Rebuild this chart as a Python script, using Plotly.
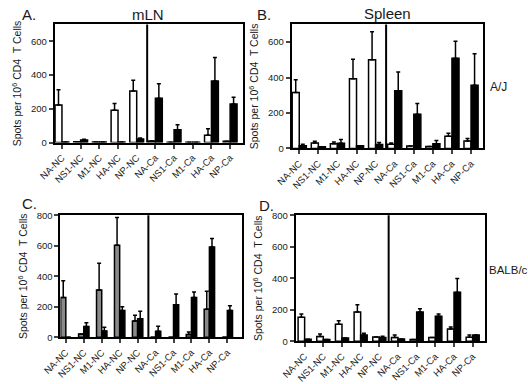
import plotly.graph_objects as go

categories = ["NA-NC", "NS1-NC", "M1-NC", "HA-NC", "NP-NC",
              "NA-Ca", "NS1-Ca", "M1-Ca", "HA-Ca", "NP-Ca"]

A_open = [223, 5, 3, 191, 306, 10, 2, 2, 44, 8]
A_open_sem = [90, 0, 0, 40, 63, 0, 0, 0, 38, 0]
A_filled = [3, 15, 3, 3, 22, 262, 76, 2, 365, 229]
A_filled_sem = [0, 5, 0, 0, 5, 86, 29, 0, 139, 40]

B_open = [316, 31, 27, 393, 500, 24, 13, 11, 69, 42]
B_open_sem = [71, 9, 9, 111, 158, 7, 0, 0, 16, 14]
B_filled = [15, 9, 29, 15, 22, 325, 193, 27, 509, 356]
B_filled_sem = [9, 0, 22, 0, 11, 106, 60, 17, 96, 178]

C_open = [261, 21, 310, 603, 107, 0, 0, 19, 184, 0]
C_open_sem = [109, 0, 176, 182, 38, 0, 0, 15, 118, 0]
C_filled = [0, 71, 41, 175, 122, 39, 214, 261, 592, 175]
C_filled_sem = [0, 25, 25, 26, 49, 34, 70, 36, 56, 32]

D_open = [152, 29, 107, 185, 27, 23, 10, 23, 78, 25]
D_open_sem = [21, 16, 23, 47, 0, 16, 0, 0, 12, 14]
D_filled = [12, 10, 21, 39, 23, 14, 185, 158, 311, 39]
D_filled_sem = [0, 0, 0, 12, 8, 0, 21, 15, 88, 0]

y_ticks_AB = [0, 200, 400, 600]
y_ticks_CD = [0, 200, 400, 600, 800]

y_title = "Spots per 10<sup>6</sup> CD4  T Cells"

W, H = 528, 384
FONT = "Arial, Liberation Sans, Helvetica, sans-serif"
TXT = "#1a1a1a"


def px(x):
    return x / W


def py(y):
    return 1 - y / H


panels = [
    ("", A_open, A_open_sem, A_filled, A_filled_sem, "white", (37, 19, 232, 141), 700, y_ticks_AB, [-0.39, 9.67], 0.37, 4.56),
    ("2", B_open, B_open_sem, B_filled, B_filled_sem, "white", (283, 19, 481, 147), 700, y_ticks_AB, [-0.39, 9.61], 0.37, 4.55),
    ("3", C_open, C_open_sem, C_filled, C_filled_sem, "#8a8a8a", (43, 216, 231, 342), 800, y_ticks_CD, [-0.30, 9.80], 0.29, 4.6),
    ("4", D_open, D_open_sem, D_filled, D_filled_sem, "white", (287, 216, 483, 346), 800, y_ticks_CD, [-0.48, 9.64], 0.35, 4.5),
]

fig = go.Figure()
layout = {}
shapes = []
idx = list(range(len(categories)))

for (n, op, ops, fi, fis, ocol, box, ymax, yt, xr, bw, div) in panels:
    xa = "x" + n
    ya = "y" + n
    fig.add_trace(go.Bar(
        x=idx, y=op, xaxis=xa, yaxis=ya, width=bw, offset=-bw,
        marker=dict(color=ocol, line=dict(color="black", width=1.5)),
        error_y=dict(type="data", symmetric=False, array=ops,
                     arrayminus=[0] * len(ops), color="black",
                     thickness=1.5, width=2),
        showlegend=False))
    fig.add_trace(go.Bar(
        x=idx, y=fi, xaxis=xa, yaxis=ya, width=bw, offset=0,
        marker=dict(color="black", line=dict(color="black", width=1.5)),
        error_y=dict(type="data", symmetric=False, array=fis,
                     arrayminus=[0] * len(fis), color="black",
                     thickness=1.5, width=2),
        showlegend=False))
    l, t, r, b = box
    layout["xaxis" + n] = dict(
        domain=[px(l), px(r)], anchor=ya, range=xr,
        tickmode="array", tickvals=idx, ticktext=categories,
        tickangle=-45, ticks="outside", ticklen=4, tickwidth=1.5,
        showline=True, linewidth=2, linecolor="black", mirror=True,
        showgrid=False, zeroline=False,
        tickfont=dict(family=FONT, size=9.5, color=TXT))
    layout["yaxis" + n] = dict(
        domain=[py(b), py(t)], anchor=xa, range=[0, ymax],
        tickmode="array", tickvals=yt, ticks="outside", ticklen=4,
        tickwidth=1.5, showline=True, linewidth=2, linecolor="black",
        mirror=True, showgrid=False, zeroline=False,
        title=dict(text=y_title, standoff=7,
                   font=dict(family=FONT, size=10.5, color=TXT)),
        tickfont=dict(family=FONT, size=9.5, color=TXT))
    shapes.append(dict(type="line", xref=xa, yref=ya + " domain",
                       x0=div, x1=div, y0=0, y1=1,
                       line=dict(color="black", width=2)))

annotations = []
for (txt, x, y, sz, xa) in [("A.", 1, 9, 15, "left"), ("B.", 245, 9, 15, "left"),
                            ("C.", 1, 204, 15, "left"), ("D.", 247, 206, 15, "left"),
                            ("mLN", 134, 9, 15, "center"), ("Spleen", 382, 8, 15, "center"),
                            ("A/J", 487, 84, 12, "left"), ("BALB/c", 485, 272, 11.5, "left")]:
    annotations.append(dict(text=txt, x=px(x), y=py(y), xref="paper", yref="paper",
                            showarrow=False, xanchor=xa, yanchor="middle",
                            font=dict(family=FONT, size=sz, color=TXT)))

fig.update_layout(
    width=W, height=H, margin=dict(l=0, r=0, t=0, b=0),
    paper_bgcolor="white", plot_bgcolor="white",
    barmode="overlay", shapes=shapes, annotations=annotations,
    font=dict(family=FONT), **layout)

fig.write_html("out.html", config={"displayModeBar": False},
               post_script="document.body.style.margin='0';document.body.style.padding='0';document.body.style.overflow='hidden';")
